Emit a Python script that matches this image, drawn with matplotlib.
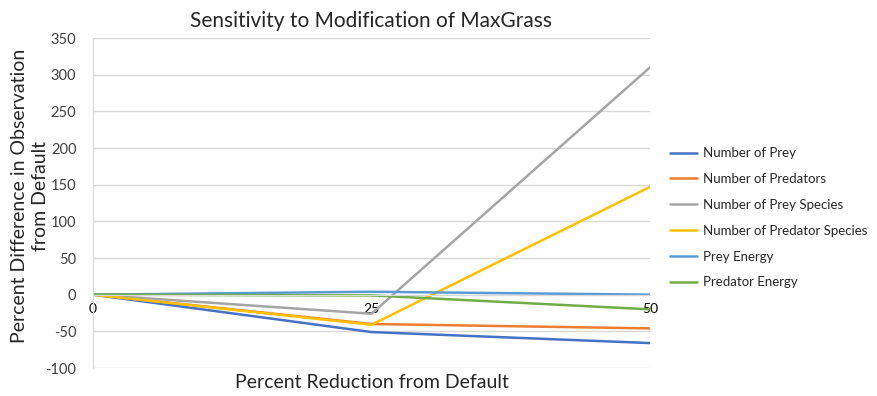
import matplotlib.pyplot as plt

plt.rcParams['font.family'] = ['Lato', 'DejaVu Sans']
plt.rcParams['axes.unicode_minus'] = False

# percent reduction steps (category axis)
reduction = ['0', '25', '50']
# percent difference in each observation
prey = [0, -51, -66]
predators = [0, -40, -46]
prey_species = [0, -26, 310]
predator_species = [0, -41, 147]
prey_energy = [0, 4, 0]
predator_energy = [0, -1, -20]

series = [
    ('Number of Prey', prey, '#4472C4'),
    ('Number of Predators', predators, '#ED7D31'),
    ('Number of Prey Species', prey_species, '#A5A5A5'),
    ('Number of Predator Species', predator_species, '#FFC000'),
    ('Prey Energy', prey_energy, '#5B9BD5'),
    ('Predator Energy', predator_energy, '#70AD47'),
]

fig = plt.figure(figsize=(8.77, 3.96), dpi=100)
ax = fig.add_axes([93 / 877, 28 / 396, 557 / 877, 330 / 396])

xs = range(len(reduction))
for name, vals, col in series:
    ax.plot(xs, vals, color=col, lw=1.8, label=name, solid_capstyle='round')

ax.set_xlim(0, len(reduction) - 1)
ax.set_ylim(-100, 350)
ax.set_yticks(range(-100, 351, 50))
ax.yaxis.grid(True, color='#D9D9D9', lw=1)
ax.set_axisbelow(True)

ax.set_xticks(list(xs))
ax.set_xticklabels(reduction, color='#7F7F7F', fontsize=11)
ax.spines['bottom'].set_position(('data', 0))
ax.spines['bottom'].set_color('#D9D9D9')
ax.spines['left'].set_color('#D9D9D9')
ax.spines['top'].set_visible(False)
ax.spines['right'].set_visible(False)
ax.tick_params(axis='both', length=0)
ax.tick_params(axis='y', labelsize=10.5, labelcolor='#404040', pad=12)
ax.tick_params(axis='x', pad=6)

ax.set_title('Sensitivity to Modification of MaxGrass', fontsize=15, color='#262626', pad=8)
fig.text(372 / 877, 14 / 396, 'Percent Reduction from Default',
         ha='center', va='center', fontsize=14, color='#262626')
fig.text(30 / 877, 200 / 396, 'Percent Difference in Observation\nfrom Default',
         ha='center', va='center', rotation=90, fontsize=14, color='#262626',
         linespacing=1.25)

ax.legend(loc='center left', bbox_to_anchor=(1.015, 0.455), frameon=False,
          fontsize=9.5, handlelength=2.0, labelspacing=1.05, handletextpad=0.5,
          labelcolor='#262626')

fig.savefig('out.png', dpi=100)
